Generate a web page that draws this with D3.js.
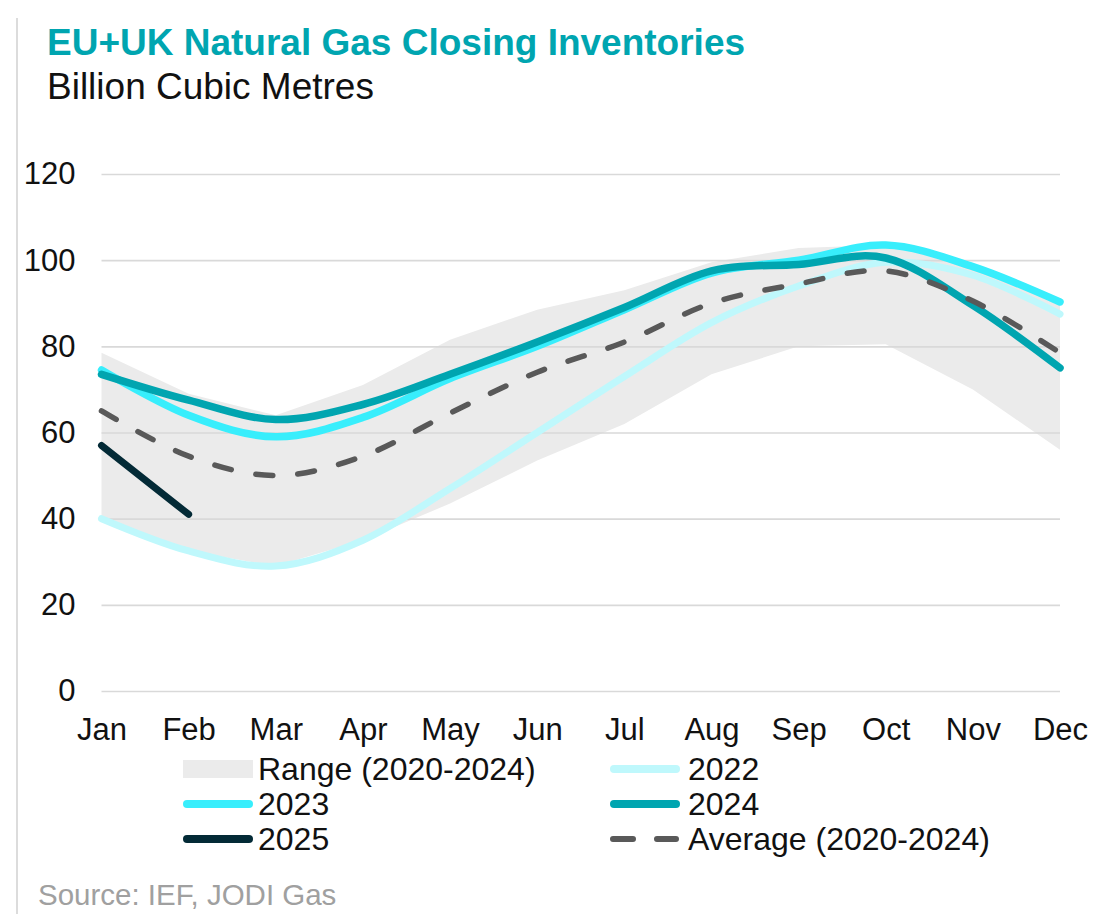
<!DOCTYPE html>
<html><head><meta charset="utf-8">
<script src="https://cdn.jsdelivr.net/npm/d3@7"></script>
<style>body{margin:0;background:#fff}svg{display:block;font-family:"Liberation Sans",Arial,sans-serif}</style>
</head><body><svg id="c" width="1119" height="914"></svg>
<script>
const months = ["Jan","Feb","Mar","Apr","May","Jun","Jul","Aug","Sep","Oct","Nov","Dec"];
const yTicks = [0,20,40,60,80,100,120];
const rangeLow  = [40,32.5,29,35,43.5,53.5,62,73.5,80,80.5,70,56];
const rangeHigh = [78.5,69,64,71,81.5,88.5,93,99.5,102.8,103.5,99,90.5];
const s2022 = [40,32.5,29,35,47,60,73,85.5,94,99.5,96.5,87.5];
const s2023 = [74.5,64,59,63.5,72.5,80,88.5,97,100,103.5,98.5,90.3];
const s2024 = [73.5,67.5,63,66.5,73.5,81,89,97.5,99,100.5,89.5,75];
const s2025 = [57,41];
const avg   = [65,54.5,50,54.5,64.5,74,81,90,94.5,97.5,90.5,78.5];
const legendItems = ["Range (2020-2024)","2022","2023","2024","2025","Average (2020-2024)"];

const C = {range:"#ebebeb",c22:"#bff8fc",c23:"#38eefc",c24:"#00a5b0",c25:"#032a36",avg:"#595959",title:"#00a5b0"};
const svg = d3.select("#c");
svg.append("rect").attr("width",1119).attr("height",914).attr("fill","#fff");
svg.append("line").attr("x1",17).attr("x2",17).attr("y1",18).attr("y2",914).attr("stroke","#d0d0d0").attr("stroke-width",1.5);

svg.append("text").attr("x",47).attr("y",55).attr("font-size",37).attr("font-weight","bold").attr("fill",C.title).text("EU+UK Natural Gas Closing Inventories");
svg.append("text").attr("x",47).attr("y",99).attr("font-size",37).attr("fill","#111").text("Billion Cubic Metres");

const x = d3.scalePoint().domain(months).range([101.5,1060]);
const y = d3.scaleLinear().domain([0,120]).range([691,174]);

// range area
const area = d3.area().x((d,i)=>x(months[i])).y0((d,i)=>y(rangeLow[i])).y1(d=>y(d)).curve(d3.curveLinear);
svg.append("path").datum(rangeHigh).attr("d",area).attr("fill",C.range);

// gridlines
const yAxis = d3.axisLeft(y).tickValues(yTicks).tickSize(-(1060-101.5)).tickPadding(26);
const gy = svg.append("g").attr("transform","translate(101.5,0)").call(yAxis);
gy.select(".domain").remove();
gy.selectAll(".tick line").attr("stroke","#d9d9d9").attr("stroke-width",1.6);
gy.selectAll(".tick text").attr("font-size",31).attr("fill","#111").attr("font-family","Liberation Sans, Arial, sans-serif");

const xAxis = d3.axisBottom(x).tickSize(0).tickPadding(0);
const gx = svg.append("g").attr("transform","translate(0,740)").call(xAxis);
gx.select(".domain").remove();
gx.selectAll(".tick text").attr("font-size",31).attr("fill","#111").attr("dy",0).attr("y",0).attr("font-family","Liberation Sans, Arial, sans-serif");

const line = d3.line().x((d,i)=>x(months[i])).y(d=>y(d)).curve(d3.curveCardinal.tension(0));
function drawLine(data,color,w,dash){
  const p = svg.append("path").datum(data).attr("d",line).attr("fill","none").attr("stroke",color).attr("stroke-width",w).attr("stroke-linecap","round").attr("stroke-linejoin","round");
  if(dash) p.attr("stroke-dasharray",dash);
  return p;
}
drawLine(s2022,C.c22,7);
drawLine(s2023,C.c23,7.5);
drawLine(s2024,C.c24,7.5);
drawLine(s2025,C.c25,7);
drawLine(avg,C.avg,5.5,"17 25");

// legend
const lg = svg.append("g").attr("font-size",32).attr("fill","#111");
const cols = [183,610], baselines=[780,815,850];
legendItems.forEach((name,i)=>{
  const cx = cols[i%2], by = baselines[Math.floor(i/2)], cy = by-11;
  if(i===0){
    lg.append("rect").attr("x",cx).attr("y",cy-9).attr("width",70).attr("height",18).attr("fill",C.range);
  } else {
    const col = [null,C.c22,C.c23,C.c24,C.c25,C.avg][i];
    const l = lg.append("line").attr("x1",cx+4).attr("x2",cx+66).attr("y1",cy).attr("y2",cy).attr("stroke",col).attr("stroke-width",i===5?6:8).attr("stroke-linecap","round");
    if(i===5) l.attr("stroke-dasharray","20 24").attr("x1",cx+3);
  }
  lg.append("text").attr("x",cx+(i%2?78:75)).attr("y",by).text(name);
});

svg.append("text").attr("x",38).attr("y",905).attr("font-size",29.5).attr("fill","#a0a0a0").text("Source: IEF, JODI Gas");
</script></body></html>
